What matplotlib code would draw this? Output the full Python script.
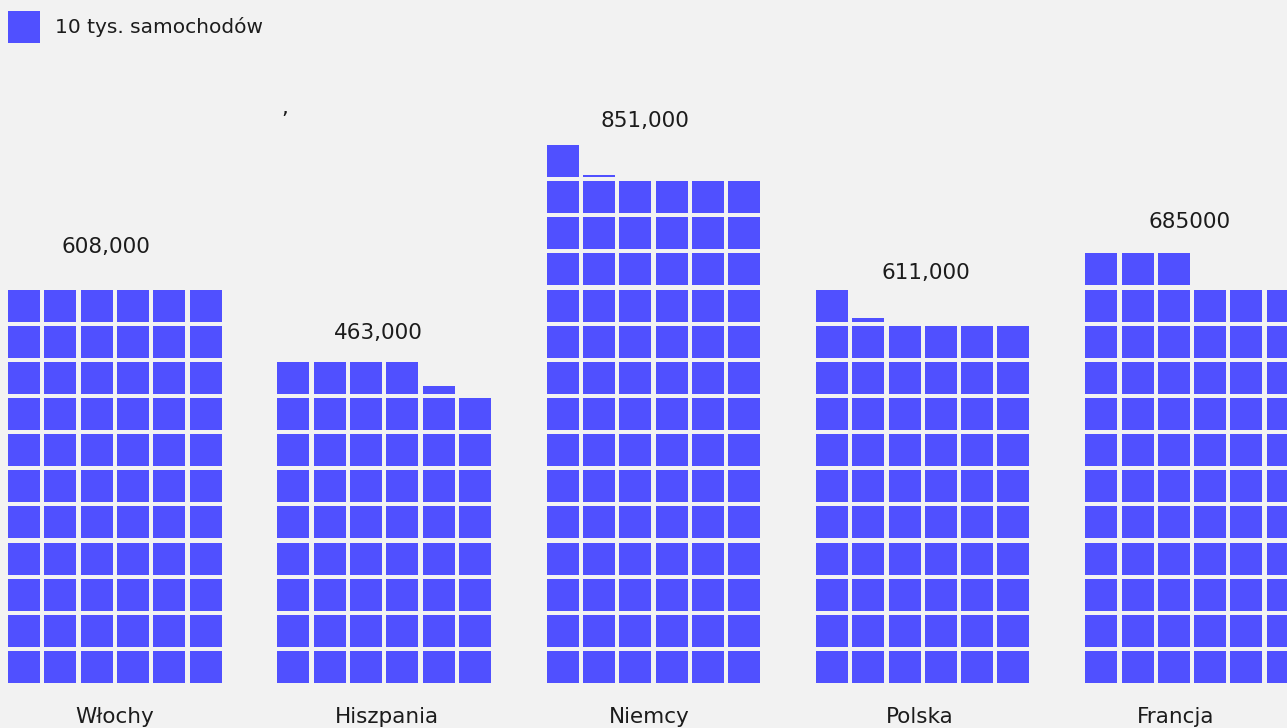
import matplotlib
matplotlib.use("Agg")
import matplotlib.pyplot as plt
from matplotlib.patches import Rectangle

# ---- data ----
countries = ["Włochy", "Hiszpania", "Niemcy", "Polska", "Francja"]
value_labels = ["608,000", "463,000", "851,000", "611,000", "685000"]
squares = [66.0, 52.25, 85.06, 61.12, 69.0]   # number of squares drawn (10 tys. each)
legend_text = "10 tys. samochodów"

# ---- layout ----
W, H = 1287, 728
COLS = 6
PITCH_X = 36.3
PITCH_Y = 36.15
SIZE = 32
BOTTOM = 683
GROUP_X0 = 8
GROUP_STEP = 269.3
label_y = [247, 333, 121, 273, 222]
label_dx = [-9, -6, -8, 3, -2]
name_dx = [0, 3, -4, -3, -16]
COLOR = "#5050ff"
BG = "#f2f2f2"
TXT = "#1c1c1c"

fig = plt.figure(figsize=(W / 100, H / 100), dpi=100)
fig.patch.set_facecolor(BG)
ax = fig.add_axes([0, 0, 1, 1])
ax.set_facecolor(BG)
ax.set_xlim(0, W)
ax.set_ylim(H, 0)
ax.axis("off")

for g, (name, lab, n) in enumerate(zip(countries, value_labels, squares)):
    x0 = GROUP_X0 + g * GROUP_STEP
    full = int(n)
    frac = n - full
    for k in range(full):
        r, c = divmod(k, COLS)
        x = x0 + c * PITCH_X
        ybot = BOTTOM - r * PITCH_Y
        ax.add_patch(Rectangle((x, ybot - SIZE), SIZE, SIZE, facecolor=COLOR, edgecolor="none"))
    if frac > 0.01:
        r, c = divmod(full, COLS)
        x = x0 + c * PITCH_X
        ybot = BOTTOM - r * PITCH_Y
        h = frac * SIZE
        ax.add_patch(Rectangle((x, ybot - h), SIZE, h, facecolor=COLOR, edgecolor="none"))
    cx = x0 + ((COLS - 1) * PITCH_X + SIZE) / 2
    ax.text(cx + label_dx[g], label_y[g], lab, ha="center", va="center", fontsize=15.5, color=TXT)
    ax.text(cx + name_dx[g], 717, name, ha="center", va="center", fontsize=15.5, color=TXT)

# stray comma
ax.text(285, 114, ",", ha="center", va="baseline", fontsize=15.5, color=TXT)

# legend
ax.add_patch(Rectangle((8, 11), 32, 32, facecolor=COLOR, edgecolor="none"))
ax.text(55, 27, legend_text, ha="left", va="center", fontsize=14.5, color=TXT)

fig.savefig("out.png", dpi=100, facecolor=BG)
